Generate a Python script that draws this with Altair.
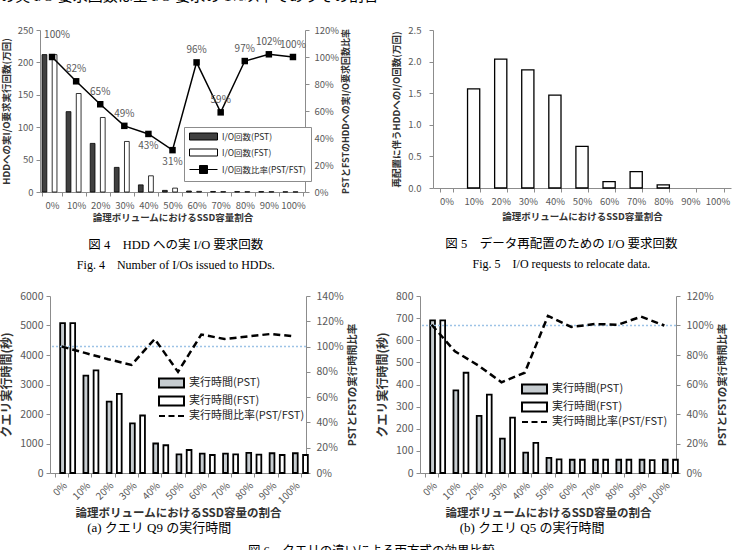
import altair as alt
import pandas as pd

cats = ["0%", "10%", "20%", "30%", "40%", "50%", "60%", "70%", "80%", "90%", "100%"]

# Fig.4  I/O counts to HDD (10k), and ratio PST/FST (%)
io_names = ["I/O回数(PST)", "I/O回数(FST)", "I/O回数比率(PST/FST)"]
io_pst = [212, 124, 75, 38, 11, 2.5, 1.5, 0.8, 0.6, 0.6, 0.3]
io_fst = [212, 152, 115, 78, 25, 6, 1.0, 0.6, 0.5, 0.5, 0.3]
io_ratio = [100, 82, 65, 49, 43, 31, 96, 59, 97, 102, 100]

# Fig.5  relocation I/O (10k)
reloc = [0, 1.57, 2.04, 1.87, 1.47, 0.66, 0.10, 0.26, 0.05, 0, 0]

# Fig.6  query execution time (s) and ratio (%)
time_names = ["実行時間(PST)", "実行時間(FST)", "実行時間比率(PST/FST)"]
q9_pst = [5080, 3300, 2420, 1680, 1000, 630, 660, 660, 680, 670, 670]
q9_fst = [5080, 3480, 2680, 1950, 940, 780, 610, 630, 620, 610, 610]
q9_ratio = [100, 95, 90, 85.5, 106, 80, 109.5, 106, 108, 110, 108]
q5_pst = [690, 373, 258, 155, 92, 68, 60, 60, 60, 60, 60]
q5_fst = [690, 453, 354, 250, 136, 62, 60, 60, 60, 58, 60]
q5_ratio = [100.5, 82.5, 73, 61.5, 68, 106.5, 99, 101, 100.5, 106, 100]
ref_line = [100]

FONT = "Noto Sans CJK JP"
SERIF = "Liberation Serif, Noto Sans CJK JP"
AX = "#8c8c8c"
LAB = "#595959"
TTL = "#333333"
IND = dict(fill="independent", shape="independent", stroke="independent")


def xaxis(title, angle, lsize, tsize, lpad, tpad):
    return alt.Axis(title=title, labelAngle=angle, tickBand="extent", tickSize=4,
                    domainColor=AX, tickColor=AX, labelFont=FONT, labelFontSize=lsize,
                    labelColor=LAB, labelPadding=lpad, titleFont=FONT, titleFontSize=tsize,
                    titleFontWeight="bold", titleColor=TTL, titlePadding=tpad,
                    labelOverlap=False)


def yaxis(title, values, orient, lsize, tsize, lpad, tpad, fmt=None, expr=None):
    kw = dict(title=title, values=values, orient=orient, grid=False, tickSize=4,
              domainColor=AX, tickColor=AX, labelFont=FONT, labelFontSize=lsize,
              labelColor=LAB, labelPadding=lpad, titleFont=FONT, titleFontSize=tsize,
              titleFontWeight="bold", titleColor=TTL, titlePadding=tpad)
    if fmt:
        kw["format"] = fmt
    if expr:
        kw["labelExpr"] = expr
    if orient == "right":
        kw["titleAngle"] = 270
        kw["titleBaseline"] = "top"
    return alt.Axis(**kw)


def caption(text, sub=None, size=12.5, offset=8, dx=0):
    kw = dict(text=text, orient="bottom", anchor="middle", frame="bounds", font=SERIF,
              fontSize=size, fontWeight="normal", color="black", offset=offset, dx=dx)
    if sub:
        kw.update(subtitle=sub, subtitleFont=SERIF, subtitleFontSize=12,
                  subtitleColor="black", subtitlePadding=8)
    return alt.TitleParams(**kw)


def long_bars(names, a, b):
    return pd.DataFrame({"cat": cats + cats,
                         "series": [names[0]] * len(cats) + [names[1]] * len(cats),
                         "value": a + b})


# ---------------- Fig. 4 ----------------
RECT1 = "M-1,-0.875H6V0.875H-1Z"
LINE1 = "M-1,0H6M1.5,-1H3.5V1H1.5Z"
fill1 = alt.Scale(domain=io_names, range=["#404040", "#ffffff", "#000000"])
stroke1 = alt.Scale(domain=io_names, range=["#000000", "#000000", "#000000"])
shape1 = alt.Scale(domain=io_names, range=[RECT1, RECT1, LINE1])
leg1 = alt.Legend(title=None, orient="none", legendX=144, legendY=97, symbolSize=64,
                  symbolStrokeWidth=1, symbolOpacity=1,
                  labelFont=FONT, labelFontSize=8.5, labelColor="#262626", labelOffset=24,
                  rowPadding=5, padding=5, strokeColor="#8c8c8c", fillColor="white")

x1 = alt.X("cat:N", sort=cats, scale=alt.Scale(paddingInner=0.17, paddingOuter=0.085),
           axis=xaxis("論理ボリュームにおけるSSD容量割合", 0, 9.5, 9.5, 4, 3))
y1 = alt.Y("value:Q", scale=alt.Scale(domain=[0, 250]),
           axis=yaxis("HDDへの実I/O要求実行回数(万回)", [0, 50, 100, 150, 200, 250], "left",
                      9.5, 9.5, 3, 6, fmt="d"))
y1r = alt.Y("ratio:Q", scale=alt.Scale(domain=[0, 120]),
            axis=yaxis("PSTとFSTのHDDへの実I/O要求回数比率", [0, 20, 40, 60, 80, 100, 120],
                       "right", 9.5, 9, 5, 3, expr="datum.value + '%'"))

df1 = long_bars(io_names, io_pst, io_fst)
r1 = pd.DataFrame({"cat": cats, "ratio": io_ratio})

bars1 = alt.Chart(df1).mark_bar(stroke="black", strokeWidth=0.8).encode(
    x=x1, y=y1,
    xOffset=alt.XOffset("series:N", sort=io_names[:2], scale=alt.Scale(paddingInner=0.06)),
    fill=alt.Fill("series:N", scale=fill1, legend=leg1))
dummy1 = alt.Chart(df1).transform_filter("false").mark_point(filled=True).encode(
    fill=alt.Fill("series:N", scale=fill1, legend=leg1),
    stroke=alt.Stroke("series:N", scale=stroke1, legend=leg1),
    shape=alt.Shape("series:N", scale=shape1, legend=leg1))
line1 = alt.Chart(r1).mark_line(color="black", strokeWidth=1.5).encode(x=x1, y=y1r)
pts1 = alt.Chart(r1).mark_square(size=42, color="black", opacity=1).encode(x=x1, y=y1r)
lab = alt.Chart(r1).transform_calculate(label="format(datum.ratio, 'd') + '%'")
lab_style = dict(font=FONT, fontSize=10, color=LAB)
lab_up = lab.transform_filter(
    alt.FieldOneOfPredicate(field="cat", oneOf=["10%", "20%", "30%", "60%", "70%", "80%", "90%", "100%"])
).mark_text(dy=-12, **lab_style).encode(x=x1, y=y1r, text="label:N")
lab_top = lab.transform_filter(alt.FieldEqualPredicate(field="cat", equal="0%")).mark_text(
    dy=-22, dx=5, **lab_style).encode(x=x1, y=y1r, text="label:N")
lab_down = lab.transform_filter(alt.FieldOneOfPredicate(field="cat", oneOf=["40%", "50%"])).mark_text(
    dy=12, **lab_style).encode(x=x1, y=y1r, text="label:N")

p1 = alt.layer(bars1, dummy1, alt.layer(line1, pts1, lab_up, lab_top, lab_down)).resolve_scale(
    y="independent").properties(
    width=265, height=162,
    title=caption("図 4　HDD への実 I/O 要求回数", "Fig. 4　Number of I/Os issued to HDDs.", offset=17))

# ---------------- Fig. 5 ----------------
df2 = pd.DataFrame({"cat": cats, "value": reloc})
p2 = alt.Chart(df2).transform_filter("datum.value > 0").mark_bar(
    fill="white", stroke="black", strokeWidth=1.3).encode(
    x=alt.X("cat:N", sort=cats,
            scale=alt.Scale(domain=cats, paddingInner=0.55, paddingOuter=0.275),
            axis=xaxis("論理ボリュームにおけるSSD容量割合", 0, 9.5, 9.5, 4, 6)),
    y=alt.Y("value:Q", scale=alt.Scale(domain=[0, 2.5]),
            axis=yaxis("再配置に伴うHDDへのI/O回数(万回)", [0, 0.5, 1, 1.5, 2, 2.5], "left",
                       9.5, 9.5, 8, 6, fmt=".1f"))
).properties(width=298, height=158,
             title=caption("図 5　データ再配置のための I/O 要求回数",
                           "Fig. 5　I/O requests to relocate data.", offset=17))

# ---------------- Fig. 6 ----------------
RECT6 = "M-1,-0.9H4V0.9H-1Z"
DASH6 = "M-1,0H0.2M0.9,0H2.1M2.8,0H4"


def query_panel(pst, fst, ratio, ymax, ystep, rmax, legx, legy, cap):
    fill6 = alt.Scale(domain=time_names, range=["#c6ccd0", "#ffffff", "#000000"])
    stroke6 = alt.Scale(domain=time_names, range=["#000000", "#000000", "#000000"])
    shape6 = alt.Scale(domain=time_names, range=[RECT6, RECT6, DASH6])
    leg6 = alt.Legend(title=None, orient="none", legendX=legx, legendY=legy, symbolSize=100,
                      symbolStrokeWidth=2, symbolOpacity=1,
                      labelFont=FONT, labelFontSize=11, labelColor="#262626", labelOffset=19,
                      rowPadding=0, padding=0)
    x6 = alt.X("cat:N", sort=cats, scale=alt.Scale(paddingInner=0.44, paddingOuter=0.22),
               axis=xaxis("論理ボリュームにおけるSSD容量の割合", 315, 10, 11.5, 3, 2))
    y6 = alt.Y("value:Q", scale=alt.Scale(domain=[0, ymax]),
               axis=yaxis("クエリ実行時間(秒)", list(range(0, ymax + 1, ystep)), "left",
                          10.5, 12, 3, 6, fmt="d"))
    y6r = alt.Y("ratio:Q", scale=alt.Scale(domain=[0, rmax]),
                axis=yaxis("PSTとFSTの実行時間比率", list(range(0, rmax + 1, 20)), "right",
                           10.5, 10.5, 6, 4, expr="datum.value + '%'"))
    df = long_bars(time_names, pst, fst)
    rdf = pd.DataFrame({"cat": cats, "ratio": ratio})
    refdf = pd.DataFrame({"ratio": ref_line})
    bars = alt.Chart(df).mark_bar(stroke="black", strokeWidth=1.8).encode(
        x=x6, y=y6,
        xOffset=alt.XOffset("series:N", sort=time_names[:2], scale=alt.Scale(paddingInner=0.0)),
        fill=alt.Fill("series:N", scale=fill6, legend=leg6))
    dummy = alt.Chart(df).transform_filter("false").mark_point(filled=True).encode(
        fill=alt.Fill("series:N", scale=fill6, legend=leg6),
        stroke=alt.Stroke("series:N", scale=stroke6, legend=leg6),
        shape=alt.Shape("series:N", scale=shape6, legend=leg6))
    rule = alt.Chart(refdf).mark_rule(color="#9dc3e6", strokeDash=[2, 2], strokeWidth=1.5).encode(y=y6r)
    line = alt.Chart(rdf).mark_line(color="black", strokeWidth=2.5, strokeDash=[7, 4]).encode(x=x6, y=y6r)
    return alt.layer(bars, dummy, alt.layer(rule, line)).resolve_scale(y="independent").properties(
        width=256, height=177, title=caption(cap, size=13, offset=3, dx=-20))


p3 = query_panel(q9_pst, q9_fst, q9_ratio, 6000, 1000, 140, 108, 81, "(a)  クエリ Q9 の実行時間")
p4 = query_panel(q5_pst, q5_fst, q5_ratio, 800, 100, 120, 101, 87, "(b)  クエリ Q5 の実行時間")

# empty spacer that shifts the lower row 10px to the right of the upper row
spacer = alt.Chart(pd.DataFrame({"s": [0]})).transform_filter("false").mark_point().properties(
    width=10, height=10)

row1 = alt.hconcat(p1, p2, spacing=128, bounds="flush").resolve_scale(**IND).resolve_legend(**IND)
inner2 = alt.hconcat(p3, p4, spacing=114, bounds="flush").resolve_scale(**IND).resolve_legend(**IND)
row2 = alt.hconcat(spacer, inner2, spacing=0, bounds="flush").resolve_scale(**IND).resolve_legend(
    **IND).properties(
    title=alt.TitleParams("図 6　クエリの違いによる両方式の効果比較", orient="bottom", anchor="middle",
                          font=SERIF, fontSize=12.5, fontWeight="normal", color="black", offset=10,
                          dx=7))

chart = alt.ConcatChart(concat=[row1, row2], columns=1, spacing=19).resolve_scale(
    **IND).resolve_legend(**IND).properties(
    title=alt.TitleParams("の実 I/O 要求回数は全 I/O 要求の 1%以下でありその割合", orient="top",
                          anchor="start", font=SERIF, fontSize=15, fontWeight="normal",
                          color="black", offset=21),
    padding={"top": -12, "bottom": -8, "left": 0, "right": 0},
    background="white",
).configure_view(stroke="transparent")

chart.save("out.html", embed_options={"renderer": "svg", "actions": False})
